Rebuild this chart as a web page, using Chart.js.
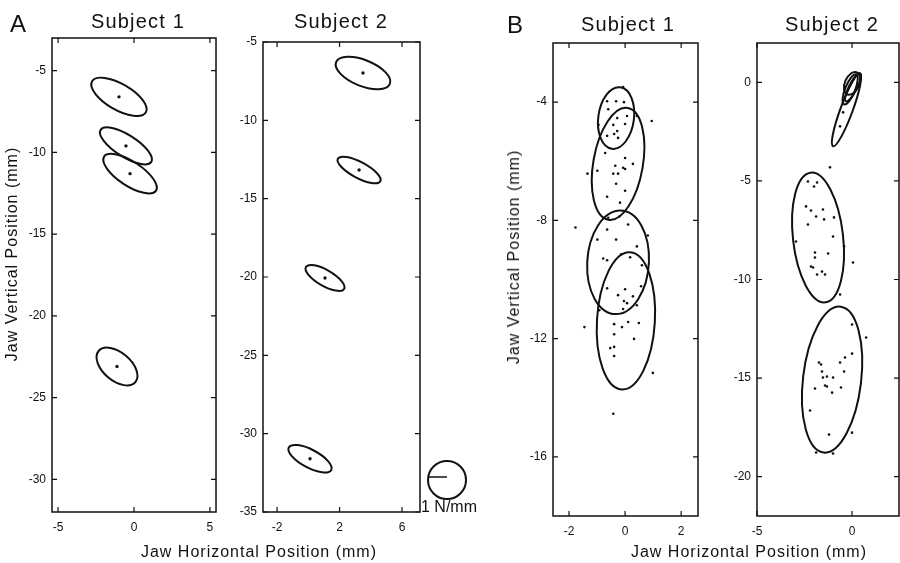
<!DOCTYPE html>
<html><head><meta charset="utf-8">
<script src="https://cdn.jsdelivr.net/npm/chart.js@4.4.0/dist/chart.umd.min.js"></script>
<style>
html,body{margin:0;padding:0;background:#fff;}
#wrap{position:relative;width:900px;height:563px;overflow:hidden;font-family:"Liberation Sans",Arial,sans-serif;color:#111;}
canvas{position:absolute;left:0;top:0;}
.t{position:absolute;white-space:nowrap;line-height:1;}
</style></head><body><div id="wrap">
<canvas id="a1" width="900" height="563"></canvas>
<canvas id="a2" width="900" height="563"></canvas>
<canvas id="b1" width="900" height="563"></canvas>
<canvas id="b2" width="930" height="563"></canvas>
</div>
<script>
// ---------- tick labels ----------
const a1XTicks = [-5, 0, 5];
const a1YTicks = [-5, -10, -15, -20, -25, -30];
const a2XTicks = [-2, 2, 6];
const a2YTicks = [-5, -10, -15, -20, -25, -30, -35];
const b1XTicks = [-2, 0, 2];
const b1YTicks = [-4, -8, -12, -16];
const b2XTicks = [-5, 0];
const b2YTicks = [0, -5, -10, -15, -20];

// ---------- ellipses: [centerX, centerY, axis1 dx, axis1 dy, axis2 dx, axis2 dy] (data units) ----------
const a1Ellipses = [
  [-0.99, -6.6, 1.77, -0.95, -0.43, -0.69],
  [-0.53, -9.6, 1.67, -0.98, -0.38, -0.57],
  [-0.26, -11.3, 1.71, -1.04, -0.43, -0.62],
  [-1.12, -23.1, 1.21, -0.95, -0.59, -0.66]
];
const a2Ellipses = [
  [3.5, -6.98, 1.72, -0.69, -0.31, -0.77],
  [3.25, -13.17, 1.36, -0.72, -0.24, -0.45],
  [1.07, -20.06, 1.22, -0.70, -0.26, -0.44],
  [0.11, -31.6, 1.36, -0.72, -0.27, -0.51]
];
const b1Ellipses = [
  [-0.32, -4.54, 0.15, 1.04, 0.63, -0.08],
  [-0.25, -6.09, 0.35, 1.89, 0.87, -0.15],
  [-0.25, -9.42, 0.08, 1.75, 1.10, 0.0],
  [0.03, -11.4, 0.15, 2.32, 1.03, -0.06]
];
const b2Ellipses = [
  [-1.79, -7.87, -0.39, 3.29, 1.31, 0.15],
  [-1.05, -15.08, 0.45, 3.70, 1.52, -0.17],
  [-0.29, -1.39, 0.71, 1.85, 0.30, -0.11],
  [0.0, -0.05, 0.26, 0.56, 0.34, -0.15],
  [-0.1, -0.35, 0.32, 0.76, 0.24, -0.10],
  [0.05, -0.25, 0.37, 0.71, 0.19, -0.09]
];

// ---------- raw data points (panel B) ----------
const b1Points = [
  [-0.07,-3.49],[-0.64,-3.97],[-0.32,-3.97],[-0.04,-4.0],[-0.60,-4.24],[-0.28,-4.54],[0.07,-4.47],
  [0.42,-4.47],[0.95,-4.64],[-0.95,-4.77],[-0.42,-4.77],[0.0,-4.74],[-0.28,-4.98],[-0.39,-5.08],
  [-0.64,-5.14],[-0.25,-5.21],[-0.71,-5.72],[0.0,-5.89],[0.28,-6.09],[-0.35,-6.15],[-0.07,-6.22],
  [0.0,-6.26],[-1.34,-6.42],[-0.99,-6.32],[-0.42,-6.42],[-0.25,-6.42],[-0.32,-6.76],[0.0,-7.0],
  [-0.64,-7.2],[-0.18,-7.4],[-0.60,-7.91],[-0.21,-7.87],[-1.77,-8.24],[-0.64,-8.31],[0.11,-8.14],
  [-0.99,-8.65],[-0.32,-8.65],[0.81,-8.51],[0.42,-8.88],[-0.78,-9.29],[-0.64,-9.35],[-0.14,-9.15],
  [0.18,-9.25],[0.60,-9.52],[-0.64,-10.3],[0.0,-10.33],[-0.25,-10.53],[0.28,-10.57],[-0.04,-10.73],
  [0.07,-10.8],[0.42,-10.87],[0.57,-10.23],[-0.92,-11.04],[-0.07,-11.0],[-1.45,-11.61],[-0.39,-11.51],
  [-0.11,-11.61],[0.11,-11.44],[0.49,-11.47],[-0.39,-11.85],[0.32,-12.01],[-0.53,-12.32],[-0.39,-12.28],
  [-0.39,-12.59],[0.99,-13.16],[-0.42,-14.54]
];
const b2Points = [
  [-0.47,-1.52],[-0.63,-2.23],[-1.16,-4.31],[-2.32,-5.03],[-1.84,-5.08],[-2.0,-5.28],[-2.42,-6.29],
  [-2.16,-6.5],[-1.53,-6.45],[-1.89,-6.8],[-1.47,-6.95],[-0.95,-6.85],[-2.32,-7.21],[-2.95,-8.07],
  [-1.0,-7.82],[-0.42,-8.32],[-1.95,-8.63],[-1.26,-8.68],[-1.95,-8.88],[0.05,-9.14],[-2.16,-9.34],
  [-2.05,-9.39],[-1.58,-9.6],[-1.84,-9.75],[-1.42,-9.75],[-0.63,-10.76],[0.0,-12.28],[0.74,-12.94],
  [0.0,-13.76],[-0.37,-13.96],[-0.63,-14.21],[-1.74,-14.21],[-1.63,-14.31],[-0.42,-14.67],[-1.58,-14.67],
  [-1.53,-14.97],[-1.32,-14.92],[-1.0,-14.97],[-1.42,-15.38],[-1.32,-15.43],[-1.95,-15.53],[-0.58,-15.48],
  [-1.05,-15.74],[-2.21,-16.65],[0.0,-17.77],[-1.21,-17.87],[-1.89,-18.78],[-1.0,-18.83]
];

// ---------- drawing ----------
const FONT = '"Liberation Sans", Arial, sans-serif';
const INK = '#111';

function makePanel(id, box, xr, yr, xTicks, yTicks, ellipses, pts, ptR, extra) {
  const canvas = document.getElementById(id);
  const W = canvas.width, H = canvas.height;
  const fixTicks = (vals) => (s) => { s.ticks = vals.map(v => ({ value: v })); };
  const plugin = {
    id: 'deco_' + id,
    afterDatasetsDraw(chart) {
      const c = chart.ctx, xs = chart.scales.x, ys = chart.scales.y, a = chart.chartArea;
      c.save();
      c.strokeStyle = INK;
      c.lineWidth = 2;
      ellipses.forEach(e => {
        const px = xs.getPixelForValue(e[0]), py = ys.getPixelForValue(e[1]);
        const ux = xs.getPixelForValue(e[0] + e[2]) - px, uy = ys.getPixelForValue(e[1] + e[3]) - py;
        const vx = xs.getPixelForValue(e[0] + e[4]) - px, vy = ys.getPixelForValue(e[1] + e[5]) - py;
        c.save();
        c.beginPath();
        c.transform(ux, uy, vx, vy, px, py);
        c.arc(0, 0, 1, 0, Math.PI * 2);
        c.restore();
        c.stroke();
      });
      c.lineWidth = 1.5;
      c.strokeRect(a.left, a.top, a.right - a.left, a.bottom - a.top);
      const tl = 5;
      c.beginPath();
      xTicks.forEach(v => {
        const x = xs.getPixelForValue(v);
        c.moveTo(x, a.bottom); c.lineTo(x, a.bottom - tl);
        c.moveTo(x, a.top); c.lineTo(x, a.top + tl);
      });
      yTicks.forEach(v => {
        const y = ys.getPixelForValue(v);
        c.moveTo(a.left, y); c.lineTo(a.left + tl, y);
        c.moveTo(a.right, y); c.lineTo(a.right - tl, y);
      });
      c.lineWidth = 1.2;
      c.stroke();
      if (extra) extra(c, a);
      c.restore();
    }
  };
  const tickFont = { family: FONT, size: 12 };
  return new Chart(canvas, {
    type: 'scatter',
    data: { datasets: [{
      data: pts.map(p => ({ x: p[0], y: p[1] })),
      pointRadius: ptR, pointBorderWidth: 0,
      pointBackgroundColor: INK, backgroundColor: INK, borderColor: INK
    }] },
    options: {
      responsive: false, animation: false, devicePixelRatio: 1, events: [],
      layout: { padding: { left: box.l - 40, right: W - box.r, top: box.t, bottom: H - box.b - 30 } },
      plugins: { legend: { display: false }, tooltip: { enabled: false } },
      scales: {
        x: {
          type: 'linear', min: xr[0], max: xr[1],
          afterBuildTicks: fixTicks(xTicks),
          afterFit(s) { s.height = 30; s.paddingLeft = 0; s.paddingRight = 0; },
          grid: { display: false, drawTicks: false }, border: { display: false },
          ticks: { autoSkip: false, maxRotation: 0, padding: 8, font: tickFont, color: INK, callback: v => String(v) }
        },
        y: {
          type: 'linear', min: yr[0], max: yr[1],
          afterBuildTicks: fixTicks(yTicks),
          afterFit(s) { s.width = 40; s.paddingTop = 0; s.paddingBottom = 0; },
          grid: { display: false, drawTicks: false }, border: { display: false },
          ticks: { autoSkip: false, padding: 6, font: tickFont, color: INK, callback: v => String(v) }
        }
      }
    },
    plugins: [plugin]
  });
}

// stiffness scale indicator next to panel A2
function scaleCircle(c, a) {
  const cx = a.right + 27, cy = a.bottom - 32, r = 19;
  c.lineWidth = 2;
  c.beginPath(); c.arc(cx, cy, r, 0, Math.PI * 2); c.stroke();
  c.lineWidth = 1.5;
  c.beginPath(); c.moveTo(cx - r, cy - 3); c.lineTo(cx, cy - 3); c.stroke();
}

makePanel('a1', { l: 52, t: 38, r: 216, b: 512 }, [-5.4, 5.4], [-32, -3], a1XTicks, a1YTicks,
  a1Ellipses, a1Ellipses.map(e => [e[0], e[1]]), 1.7);
makePanel('a2', { l: 263, t: 42, r: 420, b: 512 }, [-2.9, 7.15], [-35, -5], a2XTicks, a2YTicks,
  a2Ellipses, a2Ellipses.map(e => [e[0], e[1]]), 1.7, scaleCircle);
makePanel('b1', { l: 553, t: 43, r: 698, b: 516 }, [-2.57, 2.6], [-18, -2], b1XTicks, b1YTicks,
  b1Ellipses, b1Points, 1.3);
makePanel('b2', { l: 757, t: 43, r: 899, b: 516 }, [-5, 2.47], [-22, 2], b2XTicks, b2YTicks,
  b2Ellipses, b2Points, 1.3);

// ---------- text ----------
const wrap = document.getElementById('wrap');
function addText(txt, x, baseline, size, opt) {
  opt = opt || {};
  const d = document.createElement('div');
  d.className = 't';
  d.textContent = txt;
  d.style.fontSize = size + 'px';
  if (opt.ls) d.style.letterSpacing = opt.ls + 'px';
  if (opt.rot) {
    d.style.left = x + 'px';
    d.style.top = baseline + 'px';
    d.style.transform = 'translate(-50%,-50%) rotate(-90deg)';
  } else {
    d.style.top = (baseline - 0.8465 * size) + 'px';
    if (opt.center) { d.style.left = x + 'px'; d.style.transform = 'translateX(-50%)'; }
    else d.style.left = x + 'px';
  }
  wrap.appendChild(d);
}
addText('A', 10, 32, 24);
addText('B', 507, 33, 24);
addText('Subject 1', 138, 28, 20, { center: true, ls: 1.2 });
addText('Subject 2', 341, 28, 20, { center: true, ls: 1.2 });
addText('Subject 1', 628, 31, 20, { center: true, ls: 1.2 });
addText('Subject 2', 832, 31, 20, { center: true, ls: 1.2 });
addText('Jaw Horizontal Position (mm)', 259, 558, 16, { center: true, ls: 1 });
addText('Jaw Horizontal Position (mm)', 749, 558, 16, { center: true, ls: 1 });
addText('Jaw Vertical Position (mm)', 12, 254, 16, { rot: true, ls: 1 });
addText('Jaw Vertical Position (mm)', 514, 257, 16, { rot: true, ls: 1 });
addText('1 N/mm', 421, 513, 16);
</script>
</body></html>
